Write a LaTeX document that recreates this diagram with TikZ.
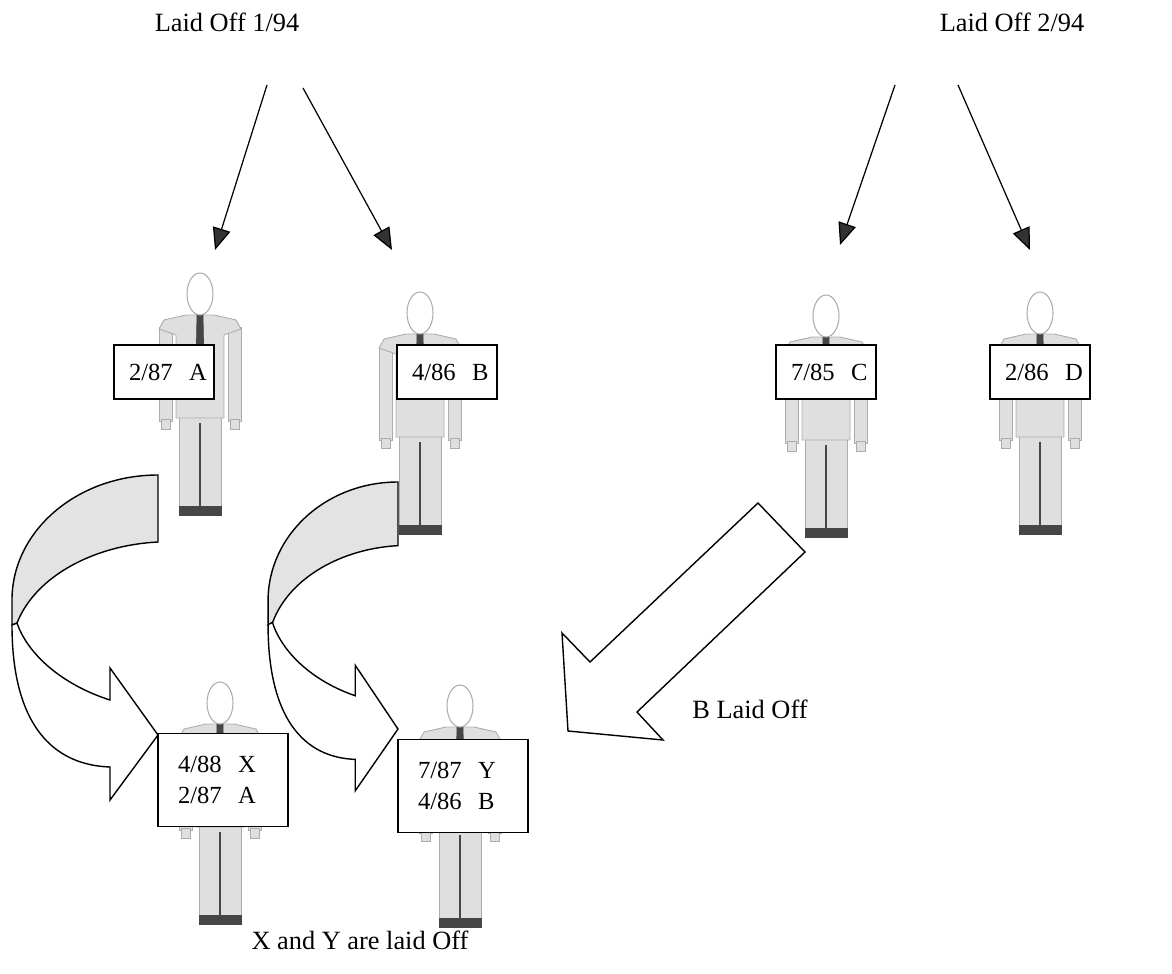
\documentclass[tikz,border=0pt]{standalone}
\usepackage{fontspec}
\setmainfont{Liberation Serif}
\usetikzlibrary{arrows.meta}

\tikzset{
  caption/.style={font=\fontsize{15}{18}\selectfont, inner sep=0pt},
  sign/.style={draw, fill=white, line width=.8pt, align=left,
    font=\fontsize{14}{17.5}\selectfont, inner ysep=0pt},
  topsign/.style={sign, inner xsep=.3cm, text width=1.4cm, minimum height=1.08cm},
  lowsign/.style={sign, inner xsep=.4cm, text width=1.8cm, minimum height=1.86cm},
  suit/.style={fill=gray!25, draw=gray!65, line width=.5pt},
  dark/.style={fill=gray!55!black, draw=gray!55!black},
  backband/.style={fill=gray!22, draw=black, line width=.8pt},
  frontband/.style={fill=white, draw=black, line width=.8pt},
  pointer/.style={-{Triangle[length=.44cm,width=.36cm,fill=gray!40!black]}, line width=.7pt}
}

\begin{document}
\begin{tikzpicture}[x=.02cm, y=-.02cm]
    \useasboundingbox (0,0) rectangle (1172,973);
    % Headings
    \node[caption] (off1) at (227,22) {Laid Off 1/94};
    \node[caption] (off2) at (1012,22) {Laid Off 2/94};
    % Bent arrows
    \foreach \x/\y/\sx/\sy in {158/475/1/1,398/482/.89/.95} {
        \begin{scope}[shift={(\x,\y)}, xscale=\sx, yscale=\sy]
            \filldraw[backband] (0,0) .. controls (-81,0) and (-146,56) .. (-146,125)
                -- (-146,150) -- (-141,148) .. controls (-122,100) and (-62,70) .. (0,67) -- cycle;
            \filldraw[frontband] (-146,150) .. controls (-146,250) and (-105,290) .. (-48,292)
                -- (-48,325) -- (0,260) -- (-48,193) -- (-48,225)
                .. controls (-95,210) and (-130,180) .. (-141,148) -- cycle;
        \end{scope}
    }
    % Staff
    \foreach \cx/\ht in {200/273,420/292,826/295,1040/292,220/682,460/685} {
        \begin{scope}[shift={(\cx,\ht)}]
            \filldraw[suit] (-41,54) rectangle (-28,148);
            \filldraw[suit] (28,54) rectangle (41,148);
            \filldraw[suit] (-39,146) rectangle (-30,156);
            \filldraw[suit] (30,146) rectangle (39,156);
            \filldraw[suit] (-21,140) rectangle (21,240);
            \filldraw[suit] (-14,42) -- (-36,47) -- (-41,56) -- (-24,62) -- (-24,145)
                -- (24,145) -- (24,62) -- (41,56) -- (36,47) -- (14,42) -- cycle;
            \fill[dark] (-21,233) rectangle (21,242);
            \draw[gray!55!black, line width=1.2pt] (0,150) -- (0,238);
            \fill[dark] (-3,42) -- (3,42) -- (4,100) -- (-4,100) -- cycle;
            \filldraw[fill=white, draw=gray!65, line width=.6pt] (0,21) ellipse [x radius=13, y radius=21];
        \end{scope}
    }
    % Signs
    \node[topsign] (signA) at (164,372) {2/87~~A};
    \node[topsign] (signB) at (447,372) {4/86~~B};
    \node[topsign] (signC) at (826,372) {7/85~~C};
    \node[topsign] (signD) at (1040,372) {2/86~~D};
    \node[lowsign] (signX) at (223,780) {4/88~~X\\2/87~~A};
    \node[lowsign] (signY) at (463,786) {7/87~~Y\\4/86~~B};
    % Pointers
    \coordinate (p1) at (267,85);  \coordinate (q1) at (215,250);
    \coordinate (p2) at (303,88);  \coordinate (q2) at (392,250);
    \coordinate (p3) at (895,85);  \coordinate (q3) at (840,245);
    \coordinate (p4) at (958,85);  \coordinate (q4) at (1030,250);
    \foreach \i in {1,...,4}
        \draw[pointer] (p\i) -- (q\i);
    % Block arrow
    \draw[fill=white, line width=.8pt] (758,503) -- (590,662) -- (562,633) -- (568,731)
        -- (663,740) -- (637,712) -- (805,552) -- cycle;
    \node[caption] (boff) at (750,709) {B Laid Off};
    \node[caption] (xyoff) at (360,940) {X and Y are laid Off};
\end{tikzpicture}
\end{document}
